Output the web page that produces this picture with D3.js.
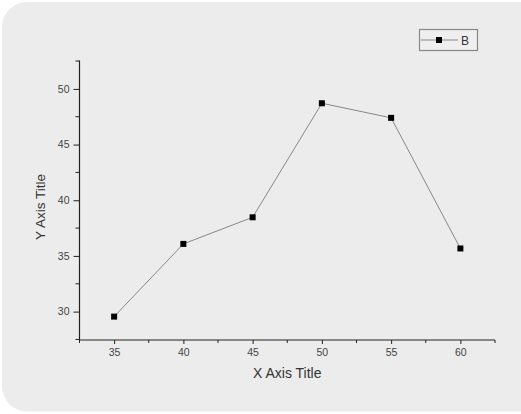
<!DOCTYPE html>
<html><head><meta charset="utf-8">
<script src="https://cdn.jsdelivr.net/npm/d3@7"></script>
<style>body{margin:0;background:#fff}svg{display:block}text{font-family:"Liberation Sans",Arial,sans-serif}</style>
</head><body>
<svg id="c" width="521" height="414"></svg>
<script>
const xValues = [35, 40, 45, 50, 55, 60];
const yValues = [29.55, 36.08, 38.47, 48.71, 47.4, 35.67];
const seriesName = "B";
const xTicks = [35, 40, 45, 50, 55, 60];
const yTicks = [30, 35, 40, 45, 50];
const xMinor = [32.5, 37.5, 42.5, 47.5, 52.5, 57.5, 62.5];
const yMinor = [27.5, 32.5, 37.5, 42.5, 47.5, 52.5];
const xTitle = "X Axis Title", yTitle = "Y Axis Title";

const svg = d3.select("#c");
svg.append("rect").attr("x",2).attr("y",2).attr("width",545).attr("height",409.5).attr("rx",25).attr("fill","#ececec");

const L=79.5, R=495, T=60.5, B=340;
const x = d3.scaleLinear().domain([32.5,62.5]).range([L,R]);
const y = d3.scaleLinear().domain([27.45,52.55]).range([B,T]);

const ink="#222", lab="#444";
// y axis
const ya = svg.append("g").attr("transform",`translate(${L},0)`)
  .call(d3.axisLeft(y).tickValues(yTicks).tickSize(6).tickPadding(4).tickFormat(d3.format("d")));
ya.select(".domain").remove();
ya.selectAll(".tick line").attr("stroke",ink);
ya.selectAll("text").attr("fill",lab).attr("font-size",10.5);
svg.append("g").selectAll("line").data(yMinor).join("line")
  .attr("x1",L-4).attr("x2",L).attr("y1",d=>y(d)).attr("y2",d=>y(d)).attr("stroke",ink);
// x axis
const xa = svg.append("g").attr("transform",`translate(0,${B})`)
  .call(d3.axisBottom(x).tickValues(xTicks).tickSize(4).tickPadding(5).tickFormat(d3.format("d")));
xa.select(".domain").remove();
xa.selectAll(".tick line").attr("stroke",ink);
xa.selectAll("text").attr("fill",lab).attr("font-size",10.5);
svg.append("g").selectAll("line").data(xMinor).join("line")
  .attr("x1",d=>x(d)).attr("x2",d=>x(d)).attr("y1",B).attr("y2",B+3).attr("stroke",ink);
svg.append("line").attr("x1",L).attr("x2",L).attr("y1",T).attr("y2",B).attr("stroke",ink).attr("stroke-width",1.2);
svg.append("line").attr("x1",L).attr("x2",R).attr("y1",B).attr("y2",B).attr("stroke",ink).attr("stroke-width",1.2);

// titles
svg.append("text").attr("x",(L+R)/2).attr("y",378).attr("text-anchor","middle").attr("font-size",14).attr("fill","#333").text(xTitle);
svg.append("text").attr("transform",`translate(45,207) rotate(-90)`).attr("text-anchor","middle").attr("font-size",13.5).attr("fill","#333").text(yTitle);

// series
const pts = xValues.map((v,i)=>[v,yValues[i]]);
svg.append("path").datum(pts).attr("fill","none").attr("stroke","#888").attr("stroke-width",1)
  .attr("d",d3.line().x(d=>x(d[0])).y(d=>y(d[1])));
svg.append("g").selectAll("rect").data(pts).join("rect")
  .attr("x",d=>x(d[0])-3).attr("y",d=>y(d[1])-3).attr("width",6).attr("height",6).attr("fill","#000");

// legend
const lg = svg.append("g");
lg.append("rect").attr("x",419.5).attr("y",29.5).attr("width",58).attr("height",21).attr("fill","#efefef").attr("stroke","#888").attr("stroke-width",1.2);
lg.append("line").attr("x1",421).attr("x2",458).attr("y1",40).attr("y2",40).attr("stroke","#888");
lg.append("rect").attr("x",436).attr("y",37).attr("width",6).attr("height",6).attr("fill","#000");
lg.append("text").attr("x",461).attr("y",44.5).attr("font-size",12).attr("fill","#334").text(seriesName);
</script>
</body></html>
